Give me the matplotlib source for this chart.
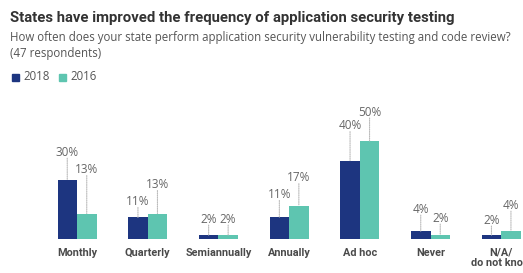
import matplotlib
matplotlib.use("Agg")
import matplotlib.pyplot as plt
import numpy as np

categories = ["Monthly", "Quarterly", "Semiannually", "Annually", "Ad hoc", "Never", "N/A/\ndo not know"]
series_names = ["2018", "2016"]
values_2018 = [30, 11, 2, 11, 40, 4, 2]
values_2016 = [13, 13, 2, 17, 50, 2, 4]

# label offsets above bar tops (pixels) - style only
off_2018 = [28, 16, 16, 23, 35, 22, 15]
off_2016 = [44, 29, 16, 28, 29, 17, 26]

navy = "#1d3580"
teal = "#5ec5b0"
gray = "#555555"

W, H = 523, 273
fig = plt.figure(figsize=(W / 100, H / 100), dpi=100)
ax = fig.add_axes([0, 0, 1, 1])

spacing = 70.7
first_center = 77
base_px = 34  # baseline from bottom in px
px_per_pct = 1.96
ax.set_xlim(-first_center / spacing, (W - first_center) / spacing)
ax.set_ylim(-base_px / px_per_pct, (H - base_px) / px_per_pct)
ax.axis("off")

x = np.arange(len(categories))
bw = 19.5 / spacing
ax.bar(x - bw / 2, values_2018, width=bw, color=navy)
ax.bar(x + bw / 2, values_2016, width=bw, color=teal)

font = "Open Sans"
for xs, vals, offs in [(x - bw / 2, values_2018, off_2018), (x + bw / 2, values_2016, off_2016)]:
    for xi, v, o in zip(xs, vals, offs):
        ax.annotate("", xy=(xi, v), xytext=(0, o - 6), textcoords="offset pixels",
                    arrowprops=dict(arrowstyle="-", color="#bbbbbb", lw=0.8, linestyle=(0, (1, 1)),
                                    shrinkA=0, shrinkB=0))
        ax.annotate(f"{v}%", xy=(xi, v), xytext=(0, o), textcoords="offset pixels",
                    ha="center", va="center", fontsize=8.5, color="#666666", family=font)

for xi, c in zip(x, categories):
    ax.annotate(c, xy=(xi, 0), xytext=(0, -9), textcoords="offset pixels",
                ha="center", va="top", fontsize=7.8, color="#4a4a4a", fontweight="bold",
                family="Roboto", linespacing=1.0)

fig.text(10 / W, 1 - 18 / H, "States have improved the frequency of application security testing",
         fontsize=10.7, fontweight="bold", color="#333333", family="Roboto",
         va="center", ha="left")
fig.text(10 / W, 1 - 38 / H, "How often does your state perform application security vulnerability testing and code review?",
         fontsize=8.3, color=gray, family=font, va="center", ha="left")
fig.text(10 / W, 1 - 53 / H, "(47 respondents)",
         fontsize=8.3, color=gray, family=font, va="center", ha="left")

# legend
for lx, col, name in [(12, navy, series_names[0]), (59, teal, series_names[1])]:
    fig.patches.append(plt.Rectangle((lx / W, 1 - 81 / H), 7 / W, 7 / H, transform=fig.transFigure,
                                     color=col, figure=fig))
    fig.text((lx + 11) / W, 1 - 77 / H, name, fontsize=8.3, color=gray, family=font,
             va="center", ha="left")

fig.savefig("out.png", dpi=100)
